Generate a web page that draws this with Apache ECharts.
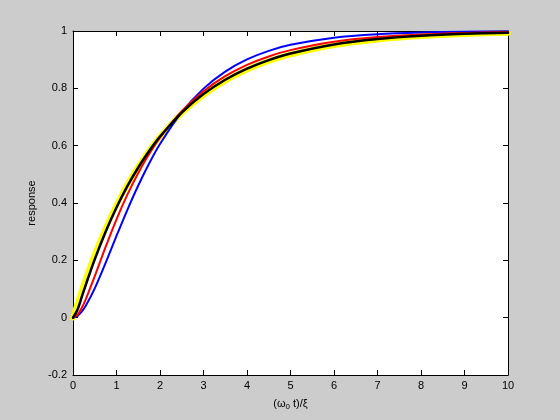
<!DOCTYPE html>
<html>
<head>
<meta charset="utf-8">
<script src="https://cdn.jsdelivr.net/npm/echarts@6/dist/echarts.min.js"></script>
<style>
html,body{margin:0;padding:0;background:#cccccc;}
#c{width:560px;height:420px;}
</style>
</head>
<body>
<div id="c"></div>
<script>
// sample positions along (w0 t)/xi
var xs = [0, 0.1, 0.2, 0.3, 0.5, 0.75, 1, 1.25, 1.5, 1.75, 2, 2.5, 3, 3.5, 4, 4.5, 5, 6, 7, 8, 9, 10];
// yellow curve
var yellowVals = [0, 0.0488, 0.0952, 0.1393, 0.2212, 0.3127, 0.3935, 0.4647, 0.5276, 0.5831, 0.6321, 0.7135, 0.7769, 0.8262, 0.8647, 0.8946, 0.9179, 0.9502, 0.9698, 0.9817, 0.9889, 0.9933];
// black curve
var blackVals = [0, 0.0266, 0.0714, 0.1173, 0.2035, 0.2996, 0.3842, 0.4586, 0.5239, 0.5814, 0.6319, 0.7155, 0.7800, 0.8299, 0.8685, 0.8984, 0.9214, 0.9530, 0.9719, 0.9832, 0.9900, 0.9940];
// red curve
var redVals = [0, 0.0097, 0.0338, 0.0667, 0.1448, 0.2471, 0.3432, 0.4292, 0.5047, 0.5706, 0.6278, 0.7205, 0.7901, 0.8424, 0.8817, 0.9111, 0.9333, 0.9624, 0.9788, 0.9880, 0.9933, 0.9962];
// blue curve
var blueVals = [0, 0.0056, 0.0207, 0.0430, 0.1023, 0.1913, 0.2849, 0.3761, 0.4609, 0.5376, 0.6056, 0.7167, 0.7990, 0.8584, 0.9008, 0.9308, 0.9518, 0.9766, 0.9886, 0.9945, 0.9973, 0.9987];
var xTicks = {min: 0, max: 10, interval: 1};
var yTicks = {min: -0.2, max: 1, interval: 0.2};

function pairs(v){ return xs.map(function(x,i){ return [x, v[i]]; }); }

var font = 'Liberation Sans, Arial, Helvetica, sans-serif';
var chart = echarts.init(document.getElementById('c'), null, {renderer:'canvas'});

function line(name, vals, color, width){
  return {
    name: name, type: 'line', data: pairs(vals), xAxisIndex: 0, yAxisIndex: 0,
    showSymbol: false, symbol: 'none', smooth: 0.3,
    lineStyle: {color: color, width: width, join: 'round', cap: 'round'}, animation: false, clip: true
  };
}
var yFmt = function(v){ var r = Math.round(v*10)/10; return r === 0 ? '0' : String(r); };
var axLine = {show: true, onZero: false, lineStyle: {color: '#000', width: 1}};
var tick = {show: true, inside: true, length: 5, lineStyle: {color: '#000'}};

chart.setOption({
  backgroundColor: '#cccccc',
  animation: false,
  grid: {left: 73, right: 52, top: 31, bottom: 45, show: true, backgroundColor: '#ffffff', borderWidth: 0},
  xAxis: [
    {type: 'value', min: xTicks.min, max: xTicks.max, interval: xTicks.interval, position: 'bottom',
     name: '(ω{sub|0} t)/ξ', nameLocation: 'middle', nameGap: 22,
     nameTextStyle: {color: '#000', fontFamily: font, fontSize: 11,
       rich: {sub: {fontSize: 8, fontFamily: font, color: '#000', padding: [6, 0, 0, 0]}}},
     axisLine: axLine, axisTick: tick,
     axisLabel: {color: '#000', fontFamily: font, fontSize: 11, margin: 5},
     splitLine: {show: false}},
    {type: 'value', min: xTicks.min, max: xTicks.max, interval: xTicks.interval, position: 'top',
     axisLine: axLine, axisTick: tick, axisLabel: {show: false}, splitLine: {show: false}}
  ],
  yAxis: [
    {type: 'value', min: yTicks.min, max: yTicks.max, interval: yTicks.interval, position: 'left',
     name: 'response', nameLocation: 'middle', nameGap: 36, nameRotate: 90,
     nameTextStyle: {color: '#000', fontFamily: font, fontSize: 11},
     axisLine: axLine, axisTick: tick,
     axisLabel: {color: '#000', fontFamily: font, fontSize: 11, margin: 6, formatter: yFmt},
     splitLine: {show: false}},
    {type: 'value', min: yTicks.min, max: yTicks.max, interval: yTicks.interval, position: 'right',
     axisLine: axLine, axisTick: tick, axisLabel: {show: false}, splitLine: {show: false}}
  ],
  series: [
    line('yellow', yellowVals, '#ffff00', 5.5),
    line('blue', blueVals, '#0000ff', 2),
    line('red', redVals, '#ff0000', 2),
    line('black', blackVals, '#000000', 2.5)
  ]
});
</script>
</body>
</html>
